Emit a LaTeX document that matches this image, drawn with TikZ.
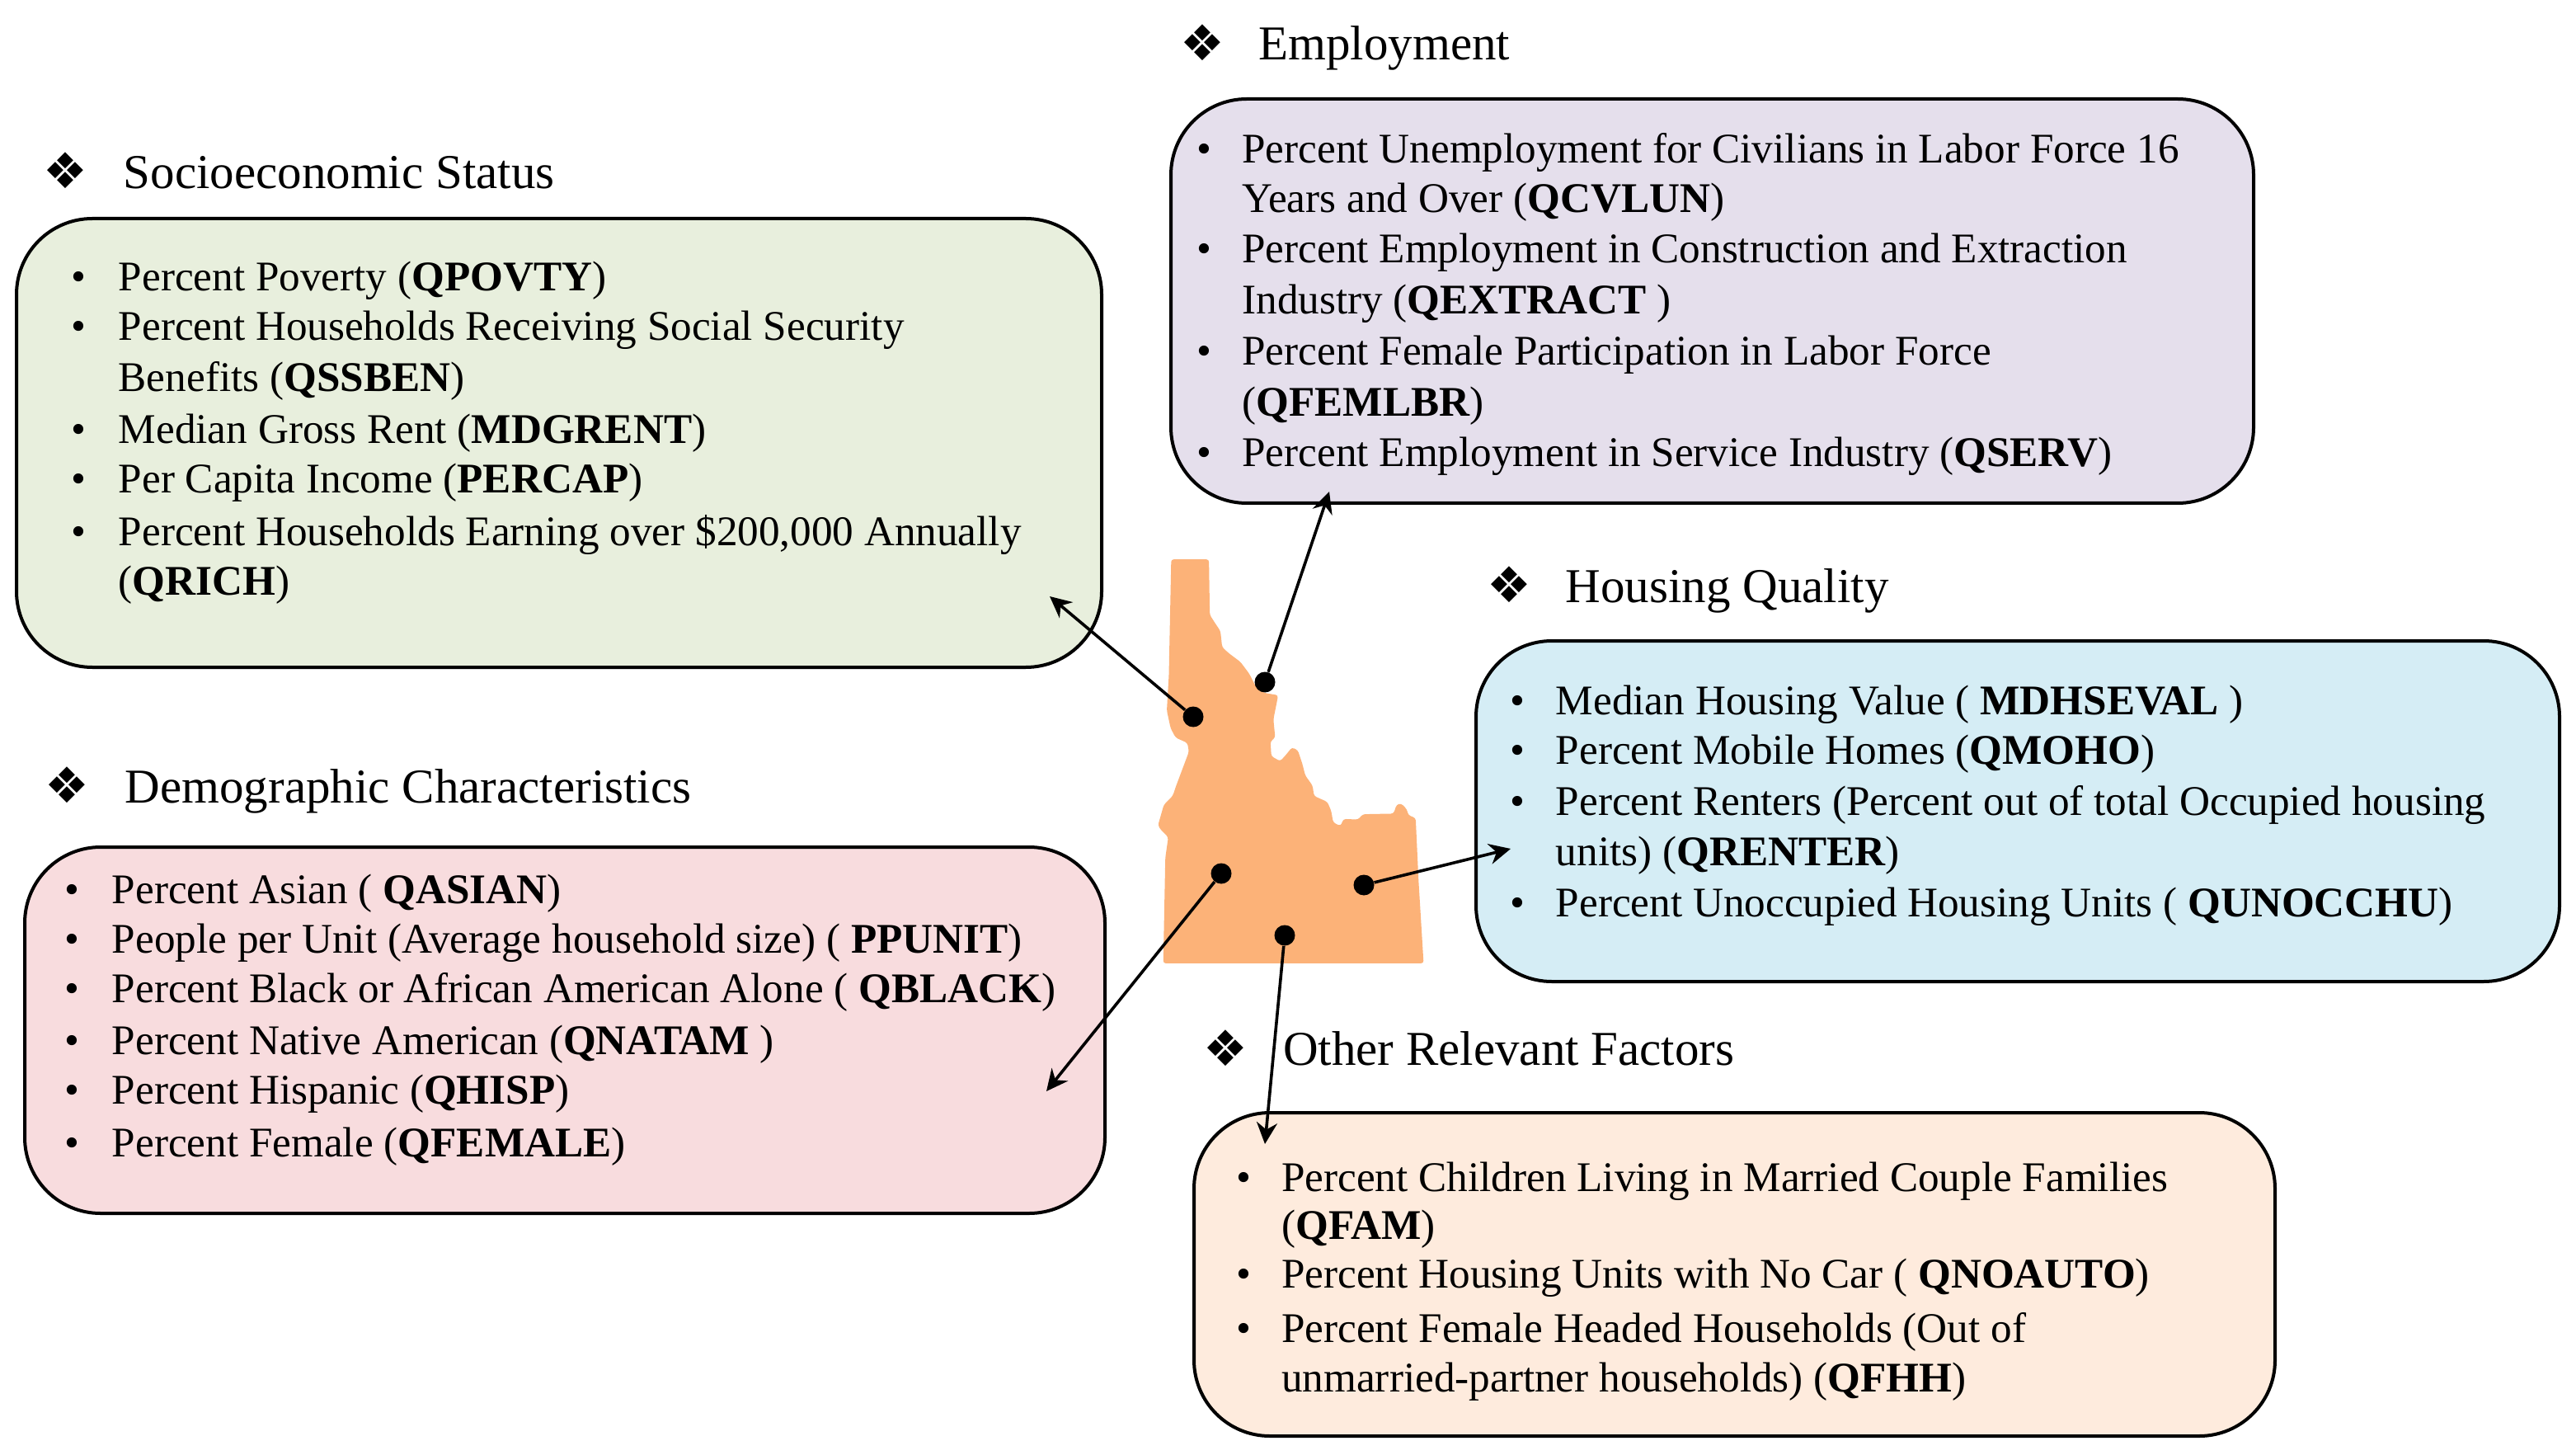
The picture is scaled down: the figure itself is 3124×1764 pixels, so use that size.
\documentclass[tikz,border=0pt]{standalone}
\usepackage{fontspec}
\setmainfont{Liberation Serif}
\newfontfamily\symfont{DejaVu Sans}
\usetikzlibrary{arrows.meta}
\definecolor{cgreen}{RGB}{232,239,221}
\definecolor{cpink}{RGB}{248,220,222}
\definecolor{clav}{RGB}{229,223,236}
\definecolor{cblue}{RGB}{213,237,245}
\definecolor{cpeach}{RGB}{254,235,221}
\definecolor{cmap}{RGB}{252,178,120}
\newcounter{txtno}
\tikzset{
  panel/.style={draw=black,line width=2pt,rounded corners=46pt,inner sep=0pt,outer sep=0pt,anchor=north west},
  body/.style={inner sep=0pt,anchor=base west,font=\fontsize{25.6pt}{30pt}\selectfont},
  head/.style={inner sep=0pt,anchor=base west,font=\fontsize{29.5pt}{34pt}\selectfont},
  sym/.style={inner sep=0pt,anchor=center,font=\symfont\fontsize{30pt}{34pt}\selectfont},
  pin/.style={circle,fill=black,inner sep=0pt,minimum size=12.5pt},
  link/.style={line width=1.8pt,-{Stealth[length=13pt,width=12.5pt]}}
}
% bullet line: bullet centre x, text x, line centre y (in 1568-wide display coordinates)
\newcommand{\itm}[4]{%
  \stepcounter{txtno}%
  \node[body,anchor=base] (b\thetxtno) at ({1.992*#1},{1.992*#3+18}) {•};
  \node[body] (t\thetxtno) at ({1.992*#2},{1.992*#3+18}) {#4};}
\newcommand{\cont}[3]{%
  \stepcounter{txtno}%
  \node[body] (t\thetxtno) at ({1.992*#1},{1.992*#2+18}) {#3};}
\newcommand{\hdg}[4]{%
  \stepcounter{txtno}%
  \node[sym] (s\thetxtno) at ({1.992*#1},{1.992*#2}) {❖};
  \node[head] (h\thetxtno) at ({1.992*#3},{1.992*#2+21}) {#4};}
\begin{document}
\begin{tikzpicture}[x=0.5pt,y=-0.5pt]
\useasboundingbox (0,0) rectangle (3124,1764);
\fill[white] (0,0) rectangle (3124,1764);
% panels
\node[panel,fill=cgreen,minimum width=658pt,minimum height=272pt] (socio) at (20,265) {};
\node[panel,fill=cpink,minimum width=655pt,minimum height=222pt] (demo) at (30,1027) {};
\node[panel,fill=clav,minimum width=656.5pt,minimum height=245pt] (empl) at (1420,120) {};
\node[panel,fill=cblue,minimum width=657pt,minimum height=206.5pt] (hous) at (1790,777) {};
\node[panel,fill=cpeach,minimum width=655.5pt,minimum height=196pt] (other) at (1448,1349) {};
% state outline
\begin{scope}[shift={(1240,640)},x=0.17857pt,y=-0.17857pt]
\fill[cmap,rounded corners=1.5pt] (505,107)--(633,107)--(636,295)--(655,325)--(672,350)--(678,405)--(700,425)--(740,455)--(770,495)--(790,535)--(820,560)--(868,568)--(862,600)--(852,650)--(858,712)--(842,725)--(845,775)--(875,792)--(895,770)--(915,745)--(935,755)--(950,800)--(960,840)--(985,875)--(990,910)--(1035,930)--(1048,960)--(1055,1000)--(1080,1012)--(1090,988)--(1140,990)--(1155,972)--(1260,970)--(1270,940)--(1285,935)--(1305,955)--(1310,975)--(1335,985)--(1345,1200)--(1362,1478)--(478,1478)--(485,1120)--(495,1050)--(470,1025)--(460,1010)--(480,940)--(510,910)--(520,880)--(565,760)--(560,730)--(520,712)--(503,680)--(490,620)--(497,500)--cycle;
\end{scope}
% headings
\hdg{40}{104}{75}{Socioeconomic Status}
\hdg{732}{26}{766}{Employment}
\hdg{919}{356}{953}{Housing Quality}
\hdg{41}{478}{76}{Demographic Characteristics}
\hdg{746}{638}{781}{Other Relevant Factors}
% socioeconomic
\itm{48}{72}{168}{Percent Poverty (\textbf{QPOVTY})}
\itm{48}{72}{198}{Percent Households Receiving Social Security}
\cont{72}{229}{Benefits (\textbf{QSSBEN})}
\itm{48}{72}{261}{Median Gross Rent (\textbf{MDGRENT})}
\itm{48}{72}{291}{Per Capita Income (\textbf{PERCAP})}
\itm{48}{72}{323}{Percent Households Earning over \$200,000 Annually}
\cont{72}{353}{(\textbf{QRICH})}
% employment
\itm{733}{756}{90}{Percent Unemployment for Civilians in Labor Force 16}
\cont{756}{120}{Years and Over (\textbf{QCVLUN})}
\itm{733}{756}{151}{Percent Employment in Construction and Extraction}
\cont{756}{182}{Industry (\textbf{QEXTRACT })}
\itm{733}{756}{213}{Percent Female Participation in Labor Force}
\cont{756}{244}{(\textbf{QFEMLBR})}
\itm{733}{756}{275}{Percent Employment in Service Industry (\textbf{QSERV})}
% housing
\itm{924}{947}{426}{Median Housing Value ( \textbf{MDHSEVAL} )}
\itm{924}{947}{456}{Percent Mobile Homes (\textbf{QMOHO})}
\itm{924}{947}{487}{Percent Renters (Percent out of total Occupied housing}
\cont{947}{518}{units) (\textbf{QRENTER})}
\itm{924}{947}{549}{Percent Unoccupied Housing Units ( \textbf{QUNOCCHU})}
% demographic
\itm{44}{68}{541}{Percent Asian ( \textbf{QASIAN})}
\itm{44}{68}{571}{People per Unit (Average household size) ( \textbf{PPUNIT})}
\itm{44}{68}{601}{Percent Black or African American Alone ( \textbf{QBLACK})}
\itm{44}{68}{633}{Percent Native American (\textbf{QNATAM} )}
\itm{44}{68}{663}{Percent Hispanic (\textbf{QHISP})}
\itm{44}{68}{695}{Percent Female (\textbf{QFEMALE})}
% other
\itm{757}{780}{716}{Percent Children Living in Married Couple Families}
\cont{780}{745}{(\textbf{QFAM})}
\itm{757}{780}{775}{Percent Housing Units with No Car ( \textbf{QNOAUTO})}
\itm{757}{780}{808}{Percent Female Headed Households (Out of}
\cont{780}{838}{unmarried-partner households) (\textbf{QFHH})}
% pins
\node[pin] (p1) at (1447,869) {};
\node[pin] (p2) at (1534,827) {};
\node[pin] (p3) at (1481,1059) {};
\node[pin] (p4) at (1654,1073) {};
\node[pin] (p5) at (1558,1134) {};
% arrow ends
\coordinate (e1) at (1273,723);
\coordinate (e2) at (1612,596);
\coordinate (e3) at (1269,1323);
\coordinate (e4) at (1832,1029);
\coordinate (e5) at (1534,1387);
\draw[link] (p1) -- (e1);
\draw[link] (p2) -- (e2);
\draw[link] (p3) -- (e3);
\draw[link] (p4) -- (e4);
\draw[link] (p5) -- (e5);
\end{tikzpicture}
\end{document}
